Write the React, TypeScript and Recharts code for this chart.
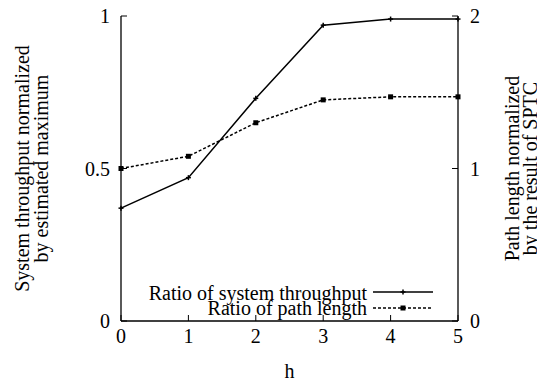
import React from "react";
import { LineChart, Line, XAxis, YAxis, Legend } from "recharts";

const hValues = [0, 1, 2, 3, 4, 5];
const throughputRatio = [0.37, 0.47, 0.73, 0.97, 0.99, 0.99];
const pathLengthRatio = [1.0, 1.08, 1.3, 1.45, 1.47, 1.47];
const xTicks = [0, 1, 2, 3, 4, 5];
const leftTicks = [0, 0.5, 1];
const rightTicks = [0, 1, 2];
const seriesNames = ["Ratio of system throughput", "Ratio of path length"];

const data = hValues.map((h, i) => ({
  h,
  throughput: throughputRatio[i],
  pathLen: pathLengthRatio[i],
}));

const FONT = "'Liberation Serif', 'Times New Roman', 'DejaVu Serif', serif";
const FS = 20;
const TS = { fontFamily: FONT, fontSize: FS, fill: "#000" } as React.CSSProperties;

const BottomTick = (props: any) => {
  const { x, y, payload } = props;
  return (
    <g>
      <line x1={x} y1={y} x2={x} y2={y - 6} stroke="#000" strokeWidth={1} />
      <text x={x} y={y + 22} textAnchor="middle" style={TS}>
        {payload.value}
      </text>
    </g>
  );
};

const TopTick = (props: any) => {
  const { x, y } = props;
  return <line x1={x} y1={y} x2={x} y2={y + 6} stroke="#000" strokeWidth={1} />;
};

const LeftTick = (props: any) => {
  const { x, y, payload } = props;
  return (
    <g>
      <line x1={x} y1={y} x2={x + 6} y2={y} stroke="#000" strokeWidth={1} />
      <text x={x - 11} y={y + 7} textAnchor="end" style={TS}>
        {payload.value}
      </text>
    </g>
  );
};

const RightTick = (props: any) => {
  const { x, y, payload } = props;
  return (
    <g>
      <line x1={x} y1={y} x2={x - 6} y2={y} stroke="#000" strokeWidth={1} />
      <text x={x + 12} y={y + 7} textAnchor="start" style={TS}>
        {payload.value}
      </text>
    </g>
  );
};

const LeftLabel = (props: any) => {
  const vb = props.viewBox || {};
  const cy = vb.y + vb.height / 2;
  const x1 = 21;
  const x2 = 40;
  return (
    <g>
      <text x={x1} y={cy} textAnchor="middle" transform={`rotate(-90 ${x1} ${cy})`} style={TS}>
        System throughput normalized
      </text>
      <text x={x2} y={cy} textAnchor="middle" transform={`rotate(-90 ${x2} ${cy})`} style={TS}>
        by estimated maximum
      </text>
    </g>
  );
};

const RightLabel = (props: any) => {
  const vb = props.viewBox || {};
  const cy = vb.y + vb.height / 2;
  const x1 = 511;
  const x2 = 529;
  return (
    <g>
      <text x={x1} y={cy} textAnchor="middle" transform={`rotate(-90 ${x1} ${cy})`} style={TS}>
        Path length normalized
      </text>
      <text x={x2} y={cy} textAnchor="middle" transform={`rotate(-90 ${x2} ${cy})`} style={TS}>
        by the result of SPTC
      </text>
    </g>
  );
};

const PlusDot = (props: any) => {
  const { cx, cy } = props;
  if (cx == null || cy == null) return null;
  return (
    <g>
      <line x1={cx - 2.5} y1={cy} x2={cx + 2.5} y2={cy} stroke="#000" strokeWidth={1.5} />
      <line x1={cx} y1={cy - 2.5} x2={cx} y2={cy + 2.5} stroke="#000" strokeWidth={1.5} />
    </g>
  );
};

const SquareDot = (props: any) => {
  const { cx, cy } = props;
  if (cx == null || cy == null) return null;
  return <rect x={cx - 2.5} y={cy - 2.5} width={5} height={5} fill="#000" />;
};

const LegendContent = () => (
  <svg width={300} height={45} style={{ display: "block", overflow: "visible" }}>
    <text x={219} y={25} textAnchor="end" style={TS}>{seriesNames[0]}</text>
    <text x={219} y={40} textAnchor="end" style={TS}>{seriesNames[1]}</text>
    <line x1={225} y1={17} x2={285} y2={17} stroke="#000" strokeWidth={1.5} />
    <line x1={252.5} y1={17} x2={257.5} y2={17} stroke="#000" strokeWidth={1.5} />
    <line x1={255} y1={14.5} x2={255} y2={19.5} stroke="#000" strokeWidth={1.5} />
    <line x1={225} y1={33} x2={285} y2={33} stroke="#000" strokeWidth={1.5} strokeDasharray="3 2" />
    <rect x={252.5} y={30.5} width={5} height={5} fill="#000" />
  </svg>
);

export default function App() {
  return (
    <LineChart
      width={537}
      height={373}
      data={data}
      margin={{ top: 8, right: 0, bottom: 0, left: 0 }}
      style={{ overflow: "visible" }}
    >
      <XAxis
        dataKey="h"
        type="number"
        domain={[0, 5]}
        ticks={xTicks}
        xAxisId="bottom"
        height={60}
        tickLine={false}
        tickSize={0}
        tickMargin={0}
        axisLine={{ stroke: "#000", strokeWidth: 1.3 }}
        tick={<BottomTick />}
        interval={0}
        label={{ value: "h", position: "insideBottom", offset: 3, style: TS }}
      />
      <XAxis
        dataKey="h"
        type="number"
        domain={[0, 5]}
        ticks={xTicks}
        xAxisId="top"
        orientation="top"
        height={0}
        tickLine={false}
        tickSize={0}
        tickMargin={0}
        axisLine={{ stroke: "#000", strokeWidth: 1.3 }}
        tick={<TopTick />}
        interval={0}
      />
      <YAxis
        yAxisId="left"
        domain={[0, 1]}
        ticks={leftTicks}
        width={113}
        tickLine={false}
        tickSize={0}
        tickMargin={0}
        axisLine={{ stroke: "#000", strokeWidth: 1.3 }}
        tick={<LeftTick />}
        interval={0}
        label={<LeftLabel />}
      />
      <YAxis
        yAxisId="right"
        orientation="right"
        domain={[0, 2]}
        ticks={rightTicks}
        width={87}
        tickLine={false}
        tickSize={0}
        tickMargin={0}
        axisLine={{ stroke: "#000", strokeWidth: 1.3 }}
        tick={<RightTick />}
        interval={0}
        label={<RightLabel />}
      />
      <Line
        xAxisId="bottom"
        yAxisId="left"
        dataKey="throughput"
        name={seriesNames[0]}
        stroke="#000"
        strokeWidth={1.5}
        dot={<PlusDot />}
        activeDot={false}
        isAnimationActive={false}
      />
      <Line
        xAxisId="bottom"
        yAxisId="right"
        dataKey="pathLen"
        name={seriesNames[1]}
        stroke="#000"
        strokeWidth={1.5}
        strokeDasharray="3 2"
        dot={<SquareDot />}
        activeDot={false}
        isAnimationActive={false}
      />
      <Legend
        layout="vertical"
        verticalAlign="middle"
        align="center"
        content={<LegendContent />}
        wrapperStyle={{ position: "absolute", left: 140, top: 267, width: 300, height: 45 }}
      />
    </LineChart>
  );
}
